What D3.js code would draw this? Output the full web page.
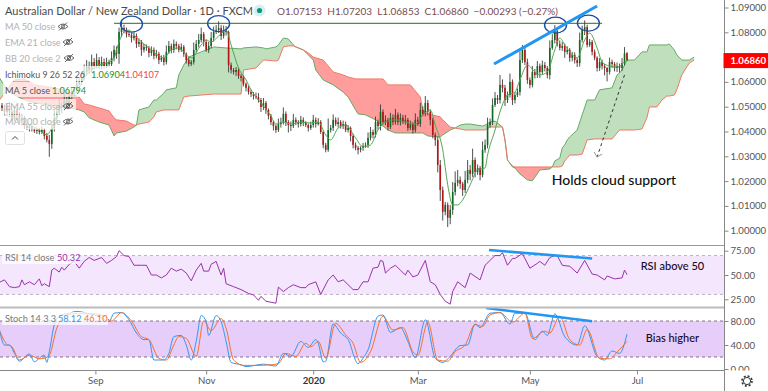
<!DOCTYPE html>
<html lang="en">

<head>
    <meta charset="utf-8">
    <style>
        html, body { margin: 0; padding: 0; background: #fff; overflow: hidden; }
        svg { display: block; font-family: Lato, sans-serif; }
    </style>
</head>

<body>
    <script src='https://d3js.org/d3.v7.min.js'></script>
    <script>

        // daily closes, one per trading day
        const closes = [
            1.0495, 1.0479, 1.0507, 1.0479, 1.0455, 1.0487, 1.0467, 1.0438, 1.0455, 1.0426,
            1.0414, 1.0422, 1.0410, 1.0402, 1.0406, 1.0398, 1.0406, 1.0382, 1.0366, 1.0350,
            1.0414, 1.0455, 1.0479, 1.0507, 1.0495, 1.0527, 1.0511, 1.0543, 1.0559, 1.0568,
            1.0592, 1.0600, 1.0616, 1.0640, 1.0664, 1.0648, 1.0680, 1.0664, 1.0688, 1.0664,
            1.0680, 1.0664, 1.0680, 1.0672, 1.0697, 1.0729, 1.0713, 1.0801, 1.0817, 1.0809,
            1.0793, 1.0789, 1.0777, 1.0785, 1.0753, 1.0761, 1.0729, 1.0741, 1.0737, 1.0717,
            1.0729, 1.0705, 1.0713, 1.0688, 1.0697, 1.0680, 1.0721, 1.0745, 1.0729, 1.0753,
            1.0745, 1.0729, 1.0741, 1.0713, 1.0688, 1.0672, 1.0680, 1.0729, 1.0753, 1.0769,
            1.0793, 1.0761, 1.0729, 1.0745, 1.0777, 1.0801, 1.0809, 1.0817, 1.0785, 1.0809,
            1.0801, 1.0668, 1.0648, 1.0640, 1.0648, 1.0624, 1.0616, 1.0592, 1.0576, 1.0559,
            1.0551, 1.0543, 1.0539, 1.0527, 1.0499, 1.0515, 1.0487, 1.0463, 1.0438, 1.0422,
            1.0406, 1.0430, 1.0438, 1.0471, 1.0438, 1.0426, 1.0422, 1.0447, 1.0438, 1.0430,
            1.0447, 1.0434, 1.0426, 1.0414, 1.0426, 1.0447, 1.0430, 1.0438, 1.0398, 1.0346,
            1.0326, 1.0406, 1.0414, 1.0447, 1.0430, 1.0438, 1.0422, 1.0430, 1.0406, 1.0414,
            1.0382, 1.0346, 1.0334, 1.0326, 1.0334, 1.0342, 1.0346, 1.0374, 1.0398, 1.0386,
            1.0438, 1.0422, 1.0479, 1.0438, 1.0447, 1.0418, 1.0455, 1.0438, 1.0467, 1.0438,
            1.0455, 1.0438, 1.0447, 1.0414, 1.0430, 1.0406, 1.0447, 1.0430, 1.0487, 1.0471,
            1.0515, 1.0479, 1.0447, 1.0386, 1.0366, 1.0265, 1.0164, 1.0076, 1.0104, 1.0052,
            1.0084, 1.0156, 1.0193, 1.0205, 1.0189, 1.0164, 1.0205, 1.0245, 1.0229, 1.0285,
            1.0237, 1.0253, 1.0225, 1.0326, 1.0346, 1.0426, 1.0438, 1.0507, 1.0535, 1.0527,
            1.0588, 1.0576, 1.0527, 1.0547, 1.0600, 1.0527, 1.0547, 1.0559, 1.0688, 1.0729,
            1.0680, 1.0608, 1.0588, 1.0640, 1.0628, 1.0664, 1.0640, 1.0668, 1.0656, 1.0628,
            1.0737, 1.0769, 1.0805, 1.0753, 1.0737, 1.0745, 1.0721, 1.0729, 1.0697, 1.0709,
            1.0688, 1.0676, 1.0769, 1.0809, 1.0821, 1.0749, 1.0761, 1.0721, 1.0697, 1.0656,
            1.0680, 1.0664, 1.0656, 1.0640, 1.0680, 1.0672, 1.0656, 1.0664, 1.0656, 1.0676, 1.07153, 1.0686
        ];

        // wick lengths in pips above and below the candle body
        const wickUp = [
            10, 14, 8, 12, 10, 16, 8, 10, 14, 8,
            12, 8, 10, 6, 10, 8, 14, 8, 12, 20,
            16, 30, 12, 24, 10, 26, 14, 20, 16, 12,
            24, 14, 26, 30, 24, 18, 30, 16, 26, 12,
            22, 14, 18, 10, 26, 18, 14, 18, 30, 14,
            10, 12, 8, 18, 10, 14, 8, 12, 10, 8,
            14, 10, 16, 8, 10, 12, 26, 20, 10, 18,
            10, 8, 14, 8, 6, 10, 8, 30, 16, 24,
            26, 8, 10, 16, 24, 22, 20, 27, 12, 18,
            16, 6, 10, 8, 12, 10, 8, 10, 6, 8,
            10, 8, 14, 16, 8, 20, 8, 6, 8, 6,
            6, 22, 18, 26, 10, 8, 14, 24, 10, 8,
            16, 10, 8, 6, 14, 20, 10, 16, 8, 6,
            8, 46, 12, 22, 10, 18, 8, 14, 10, 12,
            6, 8, 10, 8, 6, 12, 10, 22, 20, 10,
            22, 10, 30, 10, 18, 8, 20, 14, 24, 10,
            18, 12, 20, 8, 14, 8, 26, 12, 28, 14,
            28, 12, 10, 8, 10, 14, 20, 14, 12, 10,
            20, 40, 46, 40, 14, 8, 36, 40, 20, 46,
            10, 14, 8, 34, 22, 30, 14, 26, 24, 12,
            40, 22, 12, 14, 34, 10, 12, 14, 36, 20,
            10, 14, 10, 24, 12, 20, 10, 18, 12, 8,
            30, 24, 24, 10, 14, 16, 10, 14, 8, 12,
            10, 8, 30, 18, 27, 10, 12, 8, 10, 6,
            16, 10, 8, 4, 18, 10, 8, 14, 10, 20, 25, 5
        ];
        const wickDown = [
            12, 16, 10, 14, 18, 12, 20, 10, 14, 16,
            8, 14, 10, 8, 12, 10, 8, 14, 10, 52,
            20, 14, 18, 12, 22, 10, 16, 14, 12, 18,
            10, 18, 12, 10, 14, 16, 8, 14, 10, 12,
            14, 10, 8, 12, 8, 14, 20, 40, 20, 12,
            14, 8, 18, 10, 16, 12, 24, 10, 12, 18,
            12, 14, 10, 16, 8, 14, 10, 8, 14, 12,
            14, 10, 8, 12, 14, 10, 8, 10, 12, 14,
            10, 18, 8, 12, 10, 14, 8, 12, 16, 10,
            14, 30, 14, 10, 16, 12, 14, 10, 14, 10,
            12, 14, 8, 10, 20, 12, 16, 14, 12, 18,
            12, 8, 14, 10, 16, 30, 20, 8, 12, 14,
            10, 12, 8, 14, 8, 10, 14, 6, 8, 14,
            10, 8, 10, 12, 8, 14, 10, 12, 8, 10,
            22, 14, 10, 18, 10, 12, 8, 12, 10, 14,
            10, 14, 18, 10, 12, 14, 8, 12, 10, 12,
            14, 8, 10, 12, 8, 14, 10, 8, 12, 10,
            10, 14, 22, 14, 24, 30, 44, 35, 14, 37,
            26, 20, 14, 14, 20, 24, 12, 14, 26, 12,
            22, 12, 22, 10, 12, 14, 10, 12, 8, 16,
            14, 18, 24, 12, 10, 20, 14, 8, 14, 12,
            12, 16, 14, 10, 14, 12, 24, 8, 14, 14,
            18, 8, 14, 10, 10, 12, 24, 10, 16, 14,
            14, 16, 14, 10, 20, 10, 8, 14, 10, 14,
            12, 14, 30, 38, 10, 16, 14, 16, 18, 12, 10, 1
        ];

        // 5 day moving average, read at these bars
        const maBars = [
            1, 9, 15, 18, 20, 23, 27, 31, 33, 37, 39, 42, 45, 47, 49, 51, 53, 57, 60, 63, 65, 68, 71, 74, 76, 80, 82, 84, 87, 90,
            92, 95, 98, 100, 104, 108, 110, 113, 116, 120, 124, 127, 130, 132, 135, 138, 142, 145, 148, 151, 154, 158, 162, 166, 169, 172, 174, 177, 179, 181,
            183, 185, 188, 191, 194, 195, 198, 200, 203, 206, 208, 211, 214, 216, 219, 222, 224, 226, 229, 231, 234, 236, 239, 241, 244, 247, 250, 251
        ];
        const maValues = [
            1.0467, 1.0438, 1.0406, 1.0386, 1.0414, 1.0487, 1.0527, 1.0576, 1.0616, 1.0656, 1.0668, 1.0676, 1.0697, 1.0761, 1.0801, 1.0809, 1.0789, 1.0753, 1.0729, 1.0705, 1.0697, 1.0729, 1.0737, 1.0709, 1.0697, 1.0749, 1.0769, 1.0761, 1.0785, 1.0809,
            1.0749, 1.0656, 1.0608, 1.0568, 1.0515, 1.0463, 1.0430, 1.0438, 1.0430, 1.0438, 1.0434, 1.0438, 1.0386, 1.0366, 1.0414, 1.0426, 1.0374, 1.0338, 1.0346, 1.0406, 1.0438, 1.0447, 1.0438, 1.0430, 1.0467, 1.0487, 1.0426, 1.0326, 1.0185, 1.0104,
            1.0104, 1.0124, 1.0185, 1.0245, 1.0253, 1.0305, 1.0406, 1.0479, 1.0547, 1.0559, 1.0608, 1.0668, 1.0640, 1.0628, 1.0640, 1.0729, 1.0777, 1.0749, 1.0709, 1.0697, 1.0769, 1.0797, 1.0737, 1.0680, 1.0664, 1.0660, 1.0680, 1.0688
        ];

        // ichimoku cloud edges, projected past the last bar
        const spanBars = [
            -1, 2, 5, 9, 13, 19, 25, 31, 33, 35, 39, 43, 45, 46, 50, 53, 54,
            55, 59, 61, 62, 65, 66, 70, 71, 73, 75, 80, 85, 90, 96, 97, 102, 105, 106, 110, 111, 113, 115, 117, 118,
            121, 123, 125, 126, 129, 133, 137, 139, 142, 143, 146, 150, 152, 153, 155, 158, 164, 168, 169, 171, 176, 177, 180, 182,
            184, 186, 188, 193, 194, 196, 198, 200, 201, 202, 203, 205, 206, 208, 211, 213, 216, 220, 221, 222, 224, 225, 226, 227, 228, 231, 233, 235, 238, 240, 245, 247, 248, 249, 251, 254, 257, 259, 260, 263, 265, 267, 268, 270, 271, 273, 275, 276, 278
        ];
        const spanA = [
            1.0616, 1.0568, 1.0547, 1.0527, 1.0515, 1.0507, 1.0499, 1.0487, 1.0479, 1.0455, 1.0438, 1.0426, 1.0382, 1.0394, 1.0402, 1.0418, 1.0426,
            1.0487, 1.0499, 1.0527, 1.0527, 1.0555, 1.0568, 1.0576, 1.0628, 1.0668, 1.0700, 1.0721, 1.0741, 1.0737, 1.0733, 1.0737, 1.0741, 1.0737, 1.0733, 1.0741, 1.0749, 1.0777, 1.0773, 1.0749, 1.0741,
            1.0729, 1.0709, 1.0688, 1.0648, 1.0608, 1.0588, 1.0559, 1.0539, 1.0487, 1.0471, 1.0467, 1.0447, 1.0430, 1.0422, 1.0406, 1.0394, 1.0394, 1.0394, 1.0394, 1.0382, 1.0378, 1.0386, 1.0406, 1.0414,
            1.0426, 1.0430, 1.0430, 1.0422, 1.0426, 1.0438, 1.0442, 1.0426, 1.0418, 1.0366, 1.0285, 1.0257, 1.0253, 1.0229, 1.0205, 1.0201, 1.0245, 1.0249, 1.0257, 1.0281, 1.0293, 1.0334, 1.0346, 1.0366, 1.0378, 1.0406, 1.0467, 1.0527, 1.0527, 1.0568, 1.0576, 1.0628, 1.0636, 1.0648, 1.0688, 1.0688, 1.0721, 1.0721, 1.0749, 1.0749, 1.0749, 1.0749, 1.0753, 1.0729, 1.0709, 1.0688, 1.0688, 1.0688, 1.0700
        ];
        const spanB = [
            1.0527, 1.0568, 1.0608, 1.0612, 1.0588, 1.0579, 1.0568, 1.0539, 1.0511, 1.0507, 1.0495, 1.0483, 1.0455, 1.0447, 1.0442, 1.0426, 1.0426,
            1.0430, 1.0438, 1.0459, 1.0479, 1.0487, 1.0487, 1.0487, 1.0487, 1.0539, 1.0543, 1.0547, 1.0551, 1.0551, 1.0551, 1.0648, 1.0656, 1.0688, 1.0688, 1.0684, 1.0688, 1.0741, 1.0745, 1.0745, 1.0741,
            1.0729, 1.0717, 1.0700, 1.0697, 1.0688, 1.0640, 1.0628, 1.0620, 1.0612, 1.0612, 1.0612, 1.0612, 1.0612, 1.0612, 1.0588, 1.0588, 1.0588, 1.0539, 1.0487, 1.0471, 1.0459, 1.0447, 1.0418, 1.0414,
            1.0410, 1.0406, 1.0406, 1.0406, 1.0406, 1.0418, 1.0418, 1.0418, 1.0418, 1.0366, 1.0285, 1.0261, 1.0257, 1.0257, 1.0257, 1.0257, 1.0257, 1.0257, 1.0257, 1.0257, 1.0257, 1.0261, 1.0281, 1.0293, 1.0305, 1.0305, 1.0309, 1.0366, 1.0370, 1.0370, 1.0370, 1.0394, 1.0406, 1.0406, 1.0406, 1.0406, 1.0410, 1.0455, 1.0499, 1.0499, 1.0527, 1.0543, 1.0543, 1.0547, 1.0568, 1.0628, 1.0660, 1.0676, 1.0688
        ];

        const rsiBars = [
            -1, 1, 3, 5, 7, 8, 9, 11, 13, 15,
            16, 17, 19, 20, 21, 23, 24, 25, 27, 29,
            31, 33, 35, 37, 40, 42, 44, 46, 47, 49,
            51, 53, 56, 58, 60, 62, 64, 66, 68, 70,
            72, 74, 76, 78, 80, 81, 83, 84, 86, 88,
            89, 90, 93, 96, 99, 101, 103, 104, 106, 110,
            111, 113, 115, 117, 120, 122, 123, 126, 128, 131,
            133, 135, 137, 141, 143, 145, 147, 149, 151, 152,
            153, 154, 156, 158, 160, 162, 163, 165, 167, 170,
            172, 174, 176, 178, 180, 181, 183, 186, 188, 192,
            194, 196, 198, 200, 201, 203, 205, 206, 209, 212,
            215, 216, 218, 220, 222, 223, 225, 228, 231, 234,
            237, 239, 242, 243, 246, 249, 250, 251
        ];
        const rsiValues = [
            42.5, 45, 38, 37, 38, 45, 40, 43, 40, 46,
            39, 41, 38, 55, 57, 53, 58, 55, 61, 64,
            57, 64, 68, 65, 68, 62, 65, 69, 75, 70,
            69, 60, 60, 60, 50, 50, 47, 50, 57, 54,
            56, 52, 44, 55, 62, 54, 54, 61, 64, 50,
            57, 41, 38, 35, 31, 29.5, 24, 28, 23, 21,
            37.5, 33, 37, 40, 37, 37, 40, 43, 30, 45,
            50, 43, 45, 35, 35, 43, 43, 57, 58, 65,
            64, 52, 57, 60, 55, 50, 55, 48, 50, 65,
            43, 40, 30, 23, 20, 33, 43, 37, 52, 45,
            60, 65, 70, 70, 73, 60, 67, 67, 72, 57,
            62, 64, 60, 68, 70, 70, 60, 59, 52, 65,
            51, 50, 45, 49, 46, 47, 55, 50.32
        ];

        const stochKBars = [
            -1, 1, 3, 5, 7, 11, 13, 15, 17, 18,
            19, 21, 23, 27, 30, 35, 39, 43, 45, 48,
            51, 54, 57, 59, 61, 65, 67, 69, 72, 74,
            76, 78, 80, 82, 83, 86, 88, 90, 92, 96,
            98, 105, 110, 113, 116, 120, 123, 126, 127, 129,
            130, 133, 136, 139, 143, 145, 147, 151, 153, 156,
            160, 163, 166, 170, 174, 177, 180, 184, 187, 190,
            192, 196, 200, 204, 206, 210, 214, 217, 219, 222,
            226, 231, 234, 239, 242, 245, 248, 251
        ];
        const stochK = [
            65, 40, 40, 26, 13, 25, 12, 18, 23, 11,
            29, 74, 88, 93, 96, 92, 88, 79, 93, 94,
            82, 60, 49, 49, 15, 15, 26, 54, 56, 40,
            15, 46, 89, 79, 56, 89, 79, 46, 11, 7,
            4, 8, 5, 26, 21, 46, 36, 49, 43, 12,
            13, 75, 60, 49, 9, 18, 32, 88, 90, 61,
            69, 46, 19, 82, 18, 11, 21, 39, 40, 75,
            69, 93, 94, 75, 93, 93, 49, 63, 56, 92,
            54, 40, 72, 21, 15, 30, 26, 58.12
        ];
        const stochDBars = [
            -1, 2, 4, 7, 11, 15, 17, 19, 22, 25,
            29, 37, 41, 44, 48, 52, 56, 59, 63, 66,
            69, 71, 74, 78, 81, 84, 88, 90, 93, 97,
            102, 108, 111, 114, 118, 122, 124, 127, 130, 134,
            138, 141, 144, 148, 153, 157, 161, 165, 167, 171,
            175, 179, 182, 186, 190, 193, 196, 200, 205, 210,
            213, 218, 220, 224, 228, 232, 235, 240, 244, 247,
            251
        ];
        const stochD = [
            64, 41, 37, 15, 23, 17, 18, 23, 68, 88,
            92, 92, 88, 80, 94, 80, 54, 49, 18, 15,
            40, 54, 51, 21, 80, 64, 84, 68, 15, 6,
            6, 7, 9, 26, 21, 43, 37, 46, 18, 76,
            57, 43, 11, 29, 88, 65, 69, 29, 23, 78,
            15, 13, 29, 40, 74, 71, 90, 94, 78, 93,
            51, 63, 60, 88, 49, 40, 66, 18, 17, 28,
            46.10
        ];

        const monthBars = [37.5, 82, 125, 167, 212, 255];
        const monthLabels = ["Sep", "Nov", "2020", "Mar", "May", "Jul"];
        // 1.07 sits under the last price tag
        const priceTicks = [1.00, 1.01, 1.02, 1.03, 1.04, 1.05, 1.06, 1.08, 1.09];
        const rsiTicks = [25, 50, 75];
        const stochTicks = [0, 40, 80];

        // hand drawn marks on the chart, in bar / value terms
        const resistanceLevel = 1.0836;
        const resistanceBars = [45, 241];
        const circleBars = [52, 87, 222.3, 235.5];
        const circlePrices = [1.0833, 1.0835, 1.0829, 1.0837];
        const trendBars = [197.6, 239];
        const trendPrices = [1.0672, 1.0906];
        const arrowBars = [250, 239];
        const arrowPrices = [1.0628, 1.0297];
        const rsiSlopeBars = [195.6, 237];
        const rsiSlopeValues = [75.7, 67];
        const stochSlopeBars = [194.4, 237];
        const stochSlopeValues = [101.7, 79.6];

        const hiddenStudies = [["MA 50 close", 26.5, 63], ["EMA 21 close", 42, 68], ["BB 20 close 2", 58, 69], ["EMA 55 close", 106, 68], ["MA 200 close", 121.5, 68]];

        const width = 768;
        const height = 391;
        const axisX = 724.5;

        const x = d3.scaleLinear().domain([0, 251]).range([2, 627]);
        const priceY = d3.scaleLinear().domain([1.00, 1.09]).range([230.7, 7.5]);
        const rsiY = d3.scaleLinear().domain([25, 75]).range([299.3, 250.7]);
        const stochY = d3.scaleLinear().domain([0, 100]).range([369, 309]);

        const svg = d3.select("body")
            .append("svg")
            .attr("width", width)
            .attr("height", height);

        svg.append("defs").append("clipPath").attr("id", "plot")
            .append("rect").attr("width", axisX).attr("height", height);

        const plot = svg.append("g").attr("clip-path", "url(#plot)");

        // ---- ichimoku cloud
        const span = spanBars.map((b, i) => ({ bar: b, a: spanA[i], b: spanB[i] }));
        const greenArea = d3.area().x(d => x(d.bar)).y0(d => priceY(d.b)).y1(d => priceY(Math.max(d.a, d.b)));
        const redArea = d3.area().x(d => x(d.bar)).y0(d => priceY(d.a)).y1(d => priceY(Math.max(d.a, d.b)));
        plot.append("path").attr("d", greenArea(span)).attr("fill", "#bfdfbd");
        plot.append("path").attr("d", redArea(span)).attr("fill", "#ff9c9c");
        plot.append("path")
            .attr("d", d3.line().x(d => x(d.bar)).y(d => priceY(d.a))(span))
            .attr("fill", "none").attr("stroke", "#66ab66").attr("stroke-width", 1);
        plot.append("path")
            .attr("d", d3.line().x(d => x(d.bar)).y(d => priceY(d.b))(span))
            .attr("fill", "none").attr("stroke", "#ee7a66").attr("stroke-width", 1);

        // ---- resistance line
        plot.append("line")
            .attr("x1", x(resistanceBars[0])).attr("x2", x(resistanceBars[1]))
            .attr("y1", priceY(resistanceLevel)).attr("y2", priceY(resistanceLevel))
            .attr("stroke", "#4f8f45").attr("stroke-width", 1.4);

        // ---- candles
        const candles = closes.map((c, i) => {
            const o = i === 0 ? c + 0.001 : closes[i - 1];
            return {
                bar: i, open: o, close: c,
                high: Math.max(o, c) + wickUp[i] / 10000,
                low: Math.min(o, c) - wickDown[i] / 10000
            };
        });
        const candle = plot.selectAll("g.candle").data(candles).enter().append("g").attr("class", "candle");
        candle.append("line")
            .attr("x1", d => x(d.bar)).attr("x2", d => x(d.bar))
            .attr("y1", d => priceY(d.high)).attr("y2", d => priceY(d.low))
            .attr("stroke", "#3c3c3c").attr("stroke-width", 0.9);
        candle.append("rect")
            .attr("x", d => x(d.bar) - 0.8).attr("width", 1.6)
            .attr("y", d => priceY(Math.max(d.open, d.close)))
            .attr("height", d => Math.max(0.8, Math.abs(priceY(d.open) - priceY(d.close))))
            .attr("fill", d => d.close >= d.open ? "#0c6b20" : "#b31414");

        // ---- MA 5
        plot.append("path")
            .attr("d", d3.line().x((d, i) => x(maBars[i])).y(d => priceY(d)).curve(d3.curveMonotoneX)(maValues))
            .attr("fill", "none").attr("stroke", "#53a653").attr("stroke-width", 1);

        // ---- circles, trend line, dashed arrow
        plot.selectAll("ellipse").data(circleBars).enter().append("ellipse")
            .attr("cx", d => x(d)).attr("cy", (d, i) => priceY(circlePrices[i]))
            .attr("rx", 11).attr("ry", 8)
            .attr("fill", "none").attr("stroke", "#1d4fa3").attr("stroke-width", 1.4);
        plot.append("line")
            .attr("x1", x(trendBars[0])).attr("y1", priceY(trendPrices[0]))
            .attr("x2", x(trendBars[1])).attr("y2", priceY(trendPrices[1]))
            .attr("stroke", "#2196f3").attr("stroke-width", 3);
        const tipX = x(arrowBars[1]);
        const tipY = priceY(arrowPrices[1]);
        plot.append("line")
            .attr("x1", x(arrowBars[0])).attr("y1", priceY(arrowPrices[0]))
            .attr("x2", tipX).attr("y2", tipY)
            .attr("stroke", "#333").attr("stroke-width", 1).attr("stroke-dasharray", "3 3");
        plot.append("path")
            .attr("d", "M" + (tipX - 3) + "," + (tipY - 5) + "L" + tipX + "," + tipY + "L" + (tipX + 5) + "," + (tipY - 3))
            .attr("fill", "none").attr("stroke", "#999").attr("stroke-width", 1);

        plot.append("text")
            .attr("x", x(220.8)).attr("y", priceY(1.0183))
            .attr("font-size", 14).attr("font-weight", 500).attr("fill", "#111")
            .text("Holds cloud support");

        // ---- panel separators
        [245.5, 307.5].forEach(function (yy, i) {
            svg.append("line").attr("x1", 0).attr("x2", axisX).attr("y1", yy).attr("y2", yy)
                .attr("stroke", i === 0 ? "#999" : "#bbb").attr("stroke-width", i === 0 ? 1 : 2);
        });

        // ---- RSI panel
        const bandLine = (g, y, stroke) => g.append("line")
            .attr("x1", 0).attr("x2", axisX).attr("y1", y).attr("y2", y)
            .attr("stroke", stroke).attr("stroke-width", 1).attr("stroke-dasharray", "3 3");
        plot.append("rect").attr("x", 0).attr("width", axisX)
            .attr("y", rsiY(70)).attr("height", rsiY(30) - rsiY(70)).attr("fill", "#f4e6fc");
        bandLine(plot, rsiY(70), "#bdb2c2");
        bandLine(plot, rsiY(30), "#bdb2c2");
        plot.append("path")
            .attr("d", d3.line().x((d, i) => x(rsiBars[i])).y(d => rsiY(d))(rsiValues))
            .attr("fill", "none").attr("stroke", "#9a32ab").attr("stroke-width", 1);
        plot.append("line")
            .attr("x1", x(rsiSlopeBars[0])).attr("y1", rsiY(rsiSlopeValues[0]))
            .attr("x2", x(rsiSlopeBars[1])).attr("y2", rsiY(rsiSlopeValues[1]))
            .attr("stroke", "#2196f3").attr("stroke-width", 2.6);
        plot.append("text")
            .attr("x", x(256.5)).attr("y", rsiY(55))
            .attr("font-size", 11).attr("font-weight", 500).attr("fill", "#160a26")
            .text("RSI above 50");

        // ---- Stochastic panel
        plot.append("rect").attr("x", 0).attr("width", axisX)
            .attr("y", stochY(80)).attr("height", stochY(20) - stochY(80)).attr("fill", "#e7cdfa");
        bandLine(plot, stochY(80), "#84708c");
        bandLine(plot, stochY(20), "#84708c");
        const stochLine = (bars) => d3.line().x((d, i) => x(bars[i])).y(d => stochY(d)).curve(d3.curveMonotoneX);
        plot.append("path").attr("d", stochLine(stochKBars)(stochK))
            .attr("fill", "none").attr("stroke", "#2f97f0").attr("stroke-width", 1);
        plot.append("path").attr("d", stochLine(stochDBars)(stochD))
            .attr("fill", "none").attr("stroke", "#f4702a").attr("stroke-width", 1);
        plot.append("line")
            .attr("x1", x(stochSlopeBars[0])).attr("y1", stochY(stochSlopeValues[0]))
            .attr("x2", x(stochSlopeBars[1])).attr("y2", stochY(stochSlopeValues[1]))
            .attr("stroke", "#2196f3").attr("stroke-width", 2.6);
        plot.append("text")
            .attr("x", x(258.5)).attr("y", stochY(45))
            .attr("font-size", 11).attr("font-weight", 500).attr("fill", "#160a26")
            .text("Bias higher");

        // ---- axes
        const styleAxis = g => {
            g.select(".domain").remove();
            g.selectAll("line").attr("stroke", "#888");
            g.selectAll("text").attr("fill", "#555").attr("font-size", 9.6)
                .attr("font-family", "Lato, sans-serif");
        };
        svg.append("g").attr("transform", "translate(" + axisX + ",0)")
            .call(d3.axisRight(priceY).tickValues(priceTicks).tickFormat(d3.format(".5f")).tickSize(4).tickPadding(2))
            .call(styleAxis);
        svg.append("g").attr("transform", "translate(" + axisX + ",0)")
            .call(d3.axisRight(rsiY).tickValues(rsiTicks).tickFormat(d3.format(".2f")).tickSize(4).tickPadding(2))
            .call(styleAxis);
        svg.append("g").attr("transform", "translate(" + axisX + ",0)")
            .call(d3.axisRight(stochY).tickValues(stochTicks).tickFormat(d3.format(".2f")).tickSize(4).tickPadding(2))
            .call(styleAxis);

        // bottom strip covers the lower half of the 0.00 label
        svg.append("rect").attr("y", 370.5).attr("width", width).attr("height", height - 370.5).attr("fill", "#fff");
        svg.append("line").attr("x1", 0).attr("x2", axisX).attr("y1", 370.5).attr("y2", 370.5).attr("stroke", "#888");
        svg.append("line").attr("x1", axisX).attr("x2", axisX).attr("y1", 0).attr("y2", height).attr("stroke", "#888");

        svg.append("g").attr("transform", "translate(0,370.5)")
            .call(d3.axisBottom(x).tickValues(monthBars).tickFormat((d, i) => monthLabels[i]).tickSize(4).tickPadding(3))
            .call(styleAxis)
            .call(g => g.selectAll("text")
                .attr("font-weight", (d, i) => monthLabels[i] === "2020" ? 700 : 400)
                .attr("fill", (d, i) => monthLabels[i] === "2020" ? "#333" : "#555"));

        // last price tag
        const lastPrice = closes[closes.length - 1];
        svg.append("rect")
            .attr("x", axisX - 1).attr("y", priceY(lastPrice) - 7.5)
            .attr("width", width - axisX + 1).attr("height", 15).attr("fill", "#ff0000");
        svg.append("text")
            .attr("x", 730.5).attr("y", priceY(lastPrice) + 3.5)
            .attr("font-size", 9.6).attr("font-weight", 700).attr("fill", "#fff")
            .text(d3.format(".5f")(lastPrice));

        // gear icon
        svg.append("circle").attr("cx", 747).attr("cy", 381).attr("r", 3.6)
            .attr("fill", "none").attr("stroke", "#333").attr("stroke-width", 1);
        svg.append("circle").attr("cx", 747).attr("cy", 381).attr("r", 5)
            .attr("fill", "none").attr("stroke", "#333").attr("stroke-width", 1.6).attr("stroke-dasharray", "2 1.93");

        // ---- legends
        const legend = svg.append("g").attr("font-size", 9.2);
        const legendBg = (xx, yy, w, h) => legend.append("rect")
            .attr("x", xx).attr("y", yy).attr("width", w).attr("height", h)
            .attr("fill", "#fff").attr("opacity", 0.72);
        const legendText = (xx, yy, s, fill, size) => legend.append("text")
            .attr("x", xx).attr("y", yy).attr("fill", fill).attr("font-size", size || 9.2).text(s);

        legendText(5, 14.5, "Australian Dollar / New Zealand Dollar · 1D · FXCM", "#4a4a4a", 11);
        legend.append("circle").attr("cx", 259.5).attr("cy", 10.5).attr("r", 6).attr("fill", "#d8f0ec");
        legend.append("circle").attr("cx", 259.5).attr("cy", 10.5).attr("r", 2.6).attr("fill", "#0d9488");
        legendText(277, 14.5, "O1.07153  H1.07203  L1.06853  C1.06860  −0.00293 (−0.27%)", "#7a4c4c", 10)
            .attr("xml:space", "preserve").style("white-space", "pre");

        hiddenStudies.forEach(function (row) {
            legendBg(3, row[1] - 7, 73, 15);
            legendText(5, row[1] + 3.5, row[0], "#b2b2b2");
            const eye = legend.append("g").attr("transform", "translate(" + row[2] + "," + row[1] + ")")
                .attr("fill", "none").attr("stroke", "#555").attr("stroke-width", 0.9);
            eye.append("path").attr("d", "M-5,0Q0,-5 5,0Q0,5 -5,0");
            eye.append("circle").attr("r", 1.6);
            eye.append("path").attr("d", "M-4,4L4,-4");
        });
        legendBg(3, 66, 156, 15);
        legendText(5, 77.5, "Ichimoku 9 26 52 26", "#555", 8.8);
        legendText(91, 77.5, "1.06904", "#2a8f2a");
        legendText(125, 77.5, "1.04107", "#f0443c");
        legendBg(3, 82, 80, 15);
        legendText(5, 93.5, "MA 5 close", "#555");
        legendText(52, 93.5, "1.06794", "#2a8f2a");

        legend.append("rect").attr("x", 5.5).attr("y", 131.5).attr("width", 19).attr("height", 13)
            .attr("rx", 2).attr("fill", "#fff").attr("stroke", "#e0e0e0");
        legend.append("path").attr("d", "M12,139.5L15,136.5L18,139.5").attr("fill", "none").attr("stroke", "#444").attr("stroke-width", 1);

        legendBg(2, 251, 76, 13);
        legendText(5, 261, "RSI 14 close", "#777");
        legendText(57, 261, "50.32", "#9a32ab");
        legendBg(2, 312, 106, 13);
        legendText(5, 322, "Stoch 14 3 3", "#777");
        legendText(58, 322, "58.12", "#2f97f0");
        legendText(84, 322, "46.10", "#f4702a");

    </script>

</body>

</html>
